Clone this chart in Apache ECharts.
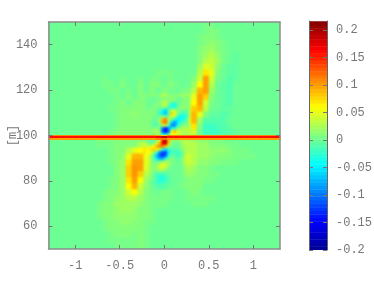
<!DOCTYPE html>
<html><head><meta charset="utf-8">
<style>html,body{margin:0;padding:0;background:#fff}#c{width:374px;height:281px}</style>
<script src="https://cdn.jsdelivr.net/npm/echarts@6/dist/echarts.min.js"></script>
</head><body><div id="c"></div>
<script>
// Tick labels
const xTicks = [-1, -0.5, 0, 0.5, 1];
const yTicks = [60, 80, 100, 120, 140];
const colorTicks = [-0.2, -0.15, -0.1, -0.05, 0, 0.05, 0.1, 0.15, 0.2];
const yLabel = '[m]';
// Colour scale levels
const colorLevels = [-.1968,-.1903,-.1838,-.1773,-.1708,-.1643,-.1578,-.1513,-.1448,-.1383,-.1318,-.1253,-.1188,-.1123,-.1058,-.0993,-.0928,-.0863,-.0798,-.0733,-.0668,-.0603,-.0538,-.0473,-.0408,-.0343,-.0278,-.0213,-.0148,-.0083,-.0018,.0047,.0112,.0177,.0242,.0307,.0372,.0437,.0502,.0567,.0632,.0697,.0762,.0827,.0892,.0957,.1022,.1087,.1152,.1217,.1282,.1347,.1412,.1477,.1542,.1607,.1672,.1737,.1802,.1867,.1932,.1997,.2062,.2127];
// Field values, hundredths, top row first: whole plot
const coarse = [
[0,0,0,0,0,0,0,0,0,0,0,0,0,0,0,0,0,0,0,0,0,0,0,0,0,0,.5,.5,0,0,0,0,0,0,0,0,0,0,0],
[0,0,0,0,0,0,0,0,0,0,0,0,0,0,0,0,0,0,0,0,0,0,0,0,0,0,.5,1,.5,0,0,0,0,0,0,0,0,0,0],
[0,0,0,0,0,0,0,0,0,0,0,0,0,0,0,0,0,0,0,0,0,0,0,0,0,.5,1,1,.5,0,0,0,0,0,0,0,0,0,0],
[0,0,0,0,0,0,0,0,0,0,0,0,0,0,0,0,0,0,0,0,0,0,0,0,0,.5,1,1.5,1,.5,0,0,0,0,0,0,0,0,0],
[0,0,0,0,0,0,0,0,0,0,0,0,0,0,0,0,0,0,0,0,0,0,0,0,0,1,1.5,2,1,.5,0,0,0,0,0,0,0,0,0],
[0,0,0,0,0,0,0,0,0,0,0,0,0,0,0,0,0,0,0,0,0,0,0,0,0,1,2,3,1.5,.5,0,-.5,0,0,0,0,0,0,0],
[0,0,0,0,0,0,0,0,0,0,0,0,0,0,0,0,0,0,0,0,0,0,0,0,0,1,3,3.5,2,.5,0,-.5,0,0,0,0,0,0,0],
[0,0,0,0,0,0,0,0,0,0,0,0,0,0,0,0,0,0,0,0,0,0,0,0,0,2,4.5,4,1.5,0,-.5,-.5,0,0,0,0,0,0,0],
[0,0,0,0,0,0,0,0,0,0,0,0,0,0,0,0,0,0,.5,.5,.5,0,0,0,0,3,7,5,1,0,-.5,-.5,0,0,0,0,0,0,0],
[0,0,0,0,0,0,0,0,0,.5,0,0,.5,0,0,.5,0,.5,.5,0,.5,0,0,0,1,4,10,4,.5,0,-1,-.5,0,0,0,0,0,0,0],
[0,0,0,0,0,0,0,0,0,.5,.5,0,1,0,0,1,0,1,1,0,1,.5,0,0,2,6,10,3,0,-.5,-1,0,0,0,0,0,0,0,0],
[0,0,0,0,0,0,0,0,0,0,.5,.5,0,.5,0,1,0,1,0,1,.5,0,.5,1,3,9,10,2,0,-.5,-1,0,0,0,0,0,0,0,0],
[0,0,0,0,0,0,0,0,0,0,0,.5,0,1,0,1,1,1,1,3,1,1,2,2,5,10,8,1,0,-.5,-1,0,0,0,0,0,0,0,0],
[0,0,0,0,0,0,0,0,0,0,0,.5,1,0,1,1,1,1,1,2,-3,1,2,2,6,10,4,.5,0,-.5,-1,0,0,0,0,0,0,0,0],
[0,0,0,0,0,0,0,0,0,0,.5,.5,1,1,1,1,1,1,0,1,-2,1,1,3,8,9,3,0,0,-.5,-.5,0,0,0,0,0,0,0,0],
[0,0,0,0,0,0,0,0,0,0,0,.5,1,1,1.5,1,1,0,-3,-6,6,2,-3,4,9,5,1,-.5,-.5,-1,-.5,0,0,0,0,0,0,0,0],
[0,0,0,0,0,0,0,0,0,0,0,.5,1,1,1,1,1,0,5,10,-2,-6,-4,5,9,2,-1,-1,-1,-1,0,0,0,0,0,0,0,0,0],
[0,0,0,0,0,0,0,0,0,0,0,.5,1,1,1,1,1,-1,1,2,-8,-5,0,3,7,1,-2,-2,-1.5,-1,-.5,0,0,0,0,0,0,0,0],
[0,0,0,0,0,0,0,0,0,0,.5,1,1,1,1,1,1,1,-6,-13,-3,6,3,3,4,0,-2,-2,-2,-1,-1,-.5,0,0,0,0,0,0,0],
[0,0,0,0,0,0,0,0,.5,.5,.5,1,1,1,1,.5,0,1,8,10,3,1,1,2,2,1,1,.5,.5,0,0,0,0,0,0,0,0,0,0],
[0,0,0,0,0,0,0,0,.5,.5,.5,1,1,1,1,3,4,9,15,17,4,1,2,3,3,2,2,1,1,1,.5,.5,0,0,0,0,0,0,0],
[0,0,0,0,0,0,0,0,0,0,.5,1,1,3,5,6,7,7,0,-6,-1,-1,2,3,3,2,2,1.5,1.5,1.5,1,.5,.5,.5,0,0,0,0,0],
[0,0,0,0,0,0,0,0,0,0,.5,1,1.5,5,9,9,5,-2,-10,-12,-3,-1,1,4,3,2,2,1.5,1,1,1,.5,.5,.5,.5,0,0,0,0],
[0,0,0,0,0,0,0,0,0,0,.5,1,2,7,10,10,5,0,-1,1,1,0,1,4,3,1.5,1.5,1,1,.5,.5,.5,0,0,0,0,0,0,0],
[0,0,0,0,0,0,0,0,0,0,0,1,2,8,10.5,10,5,1,4,4,1,0,1,3,2,1,1,.5,0,0,0,0,0,0,0,0,0,0,0],
[0,0,0,0,0,0,0,0,0,0,0,1,2,8,10.5,8,3,0,-1,-1,0,0,.5,2,1.5,1,1,.5,.5,0,0,0,0,0,0,0,0,0,0],
[0,0,0,0,0,0,0,0,0,0,.5,1,2,7,10,6,2,-1,-3,-2,-1,0,.5,1,1,1,.5,.5,0,0,0,0,0,0,0,0,0,0,0],
[0,0,0,0,0,0,0,0,0,0,.5,1,2,6,9,4,1.5,0,-1,-1,0,0,.5,1,1,1,0,0,0,0,0,0,0,0,0,0,0,0,0],
[0,0,0,0,0,0,0,0,0,.5,1,1,2,4,6,3,1,.5,0,.5,.5,0,0,.5,1,.5,0,0,0,0,0,0,0,0,0,0,0,0,0],
[0,0,0,0,0,0,0,0,0,.5,1,1.5,2,3,3,2,1,.5,.5,.5,.5,0,0,.5,.5,.5,.5,.5,0,0,0,0,0,0,0,0,0,0,0],
[0,0,0,0,0,0,0,0,.5,1,1,2,2,2,2,1.5,1,.5,.5,.5,0,0,0,0,.5,.5,.5,0,0,0,0,0,0,0,0,0,0,0,0],
[0,0,0,0,0,0,0,0,.5,1,1,1.5,2,2,1.5,1,1,.5,0,0,0,0,0,0,0,0,0,0,0,0,0,0,0,0,0,0,0,0,0],
[0,0,0,0,0,0,0,0,.5,1,1,1.5,1.5,1.5,1.5,1,1,.5,0,0,0,0,0,0,0,0,0,0,0,0,0,0,0,0,0,0,0,0,0],
[0,0,0,0,0,0,0,0,0,.5,1,1,1.5,1.5,1,1,.5,.5,0,0,0,0,0,0,0,0,0,0,0,0,0,0,0,0,0,0,0,0,0],
[0,0,0,0,0,0,0,0,0,.5,1,1,1,1,1,1,.5,0,0,0,0,0,0,0,0,0,0,0,0,0,0,0,0,0,0,0,0,0,0],
[0,0,0,0,0,0,0,0,0,0,.5,1,1,1,.5,1,.5,0,0,0,0,0,0,0,0,0,0,0,0,0,0,0,0,0,0,0,0,0,0],
[0,0,0,0,0,0,0,0,0,0,.5,.5,.5,.5,.5,1,.5,0,0,0,0,0,0,0,0,0,0,0,0,0,0,0,0,0,0,0,0,0,0],
[0,0,0,0,0,0,0,0,0,0,0,.5,.5,.5,.5,1,.5,0,0,0,0,0,0,0,0,0,0,0,0,0,0,0,0,0,0,0,0,0,0]
];
// Field values, hundredths, top row first: central detail
const detail = [
[0,0,0,0,.5,1,1,1,2,1,0,0,1,1],
[0,0,0,.5,1,2,3,1,1,0,0,.5,1,1],
[0,0,.5,1,1,3,4,0,-3,-4,-1,1,1,1],
[0,.5,1,1,0,1,1,-2,-3,-3,0,1.5,1.5,1],
[.5,1,1,0,-1,-4,-6,-1,4,3,1,0,0,0],
[1,1,1,0,-2,-5,-7,-1,8,5,1,-1,-2,-1],
[1,1,.5,0,0,1,0,0,5,3,-2,-4,-4,-2],
[1,1,0,-.5,2,9,11,3,0,-3,-5,-4,-3,-1],
[1,.5,-.5,-1,2,10,12,2,-6,-9,-5,-2,-1,0],
[1,.5,-1,-1,0,3,4,-2,-9,-9,-3,0,1,1],
[1,1,1,2,0,-10,-14,-9,-4,-2,1,2,3,3],
[1,1,2,3,1,-11,-15,-10,6,9,5,3,3,3],
[1,1,1,2,2,-3,-5,-1,6,6,4,3,2,2],
[0,0,0,0,2,8,10,5,2,1,1,2,2,3],
[0,-1,-1,1,5,16,20,9,2,1,1,2,3,3],
[1,0,1,4,9,17,19,8,1,0,0,1,3,3],
[4,4,6,9,11,11,8,2,0,0,0,1,2,3],
[6,7,8,7,3,-3,-6,-3,-1,-1,-1,0,2,3],
[6,5,2,-2,-9,-12,-12,-5,-1,-2,-2,-1,1,3],
[6,3,-1,-7,-11,-13,-11,-3,0,-1,-2,-1,1,4],
[5,2,-1,-5,-8,-8,-4,0,1,0,-1,0,2,4],
[5,2,0,0,0,1,2,2,1,0,0,0,2,4],
[5,2,1,1,3,5,4,2,1,0,0,0,2,3],
[4,2,1,2,4,5,3,1,0,0,0,0,1,2.5],
[4,2,1,1,2,2,1,0,0,0,0,0,1,2],
[3,2,0,-1,-1,-1,-1,0,0,0,0,0,1,2],
[3,1,-.5,-2,-3,-3,-2,-1,0,0,0,0,1,1],
[2,1,0,-1,-3,-3,-2,-1,0,0,0,0,0,1]
];
// The thin horizontal band near 99 m, hundredths, by column
const bandTop = [11,11,11,11,11,11,11,11,11,11,11,11,11,11,11,11,11,11,10,8,11,11,11,11,11,11,11,11,11,11,11,11,11,11,11,11,11,11,11];
const bandMid = [16,16,16,16,16,16,16,16,16,16,16,16,16,16,16,16,16,16,17,19,16,16,16,16,16,16,16,16,16,16,16,16,16,16,16,16,16,16,16];
const bandLow = [10,10,10,10,10,10,10,10,10,10,10,10,10,10,10,10,10,10,11,12,10,10,10,10,10,10,10,10,10,10,10,10,10,10,10,10,10,10,10];

const X0 = -1.3, X1 = 1.3, Y0 = 50, Y1 = 150, C0 = -0.2, C1 = 0.2164;
const cells = [];
const nC = coarse[0].length, nR = coarse.length;
const dx = (X1 - X0) / nC, dy = (Y1 - Y0) / nR;
coarse.forEach((row, r) => row.forEach((v, c) => {
  cells.push([X0 + c * dx, X0 + (c + 1) * dx, Y1 - (r + 1) * dy, Y1 - r * dy, v / 100]);
}));
const fx0 = -0.2025, fdx = 0.03376, fy0 = 117.0, fdy = 1.3216;
detail.forEach((row, r) => row.forEach((v, c) => {
  cells.push([fx0 + c * fdx, fx0 + (c + 1) * fdx, fy0 - (r + 1) * fdy, fy0 - r * fdy, v / 100]);
}));
const bandCells = [];
[[bandTop, 100.2, 99.8], [bandMid, 99.8, 98.9], [bandLow, 98.9, 98.2]].forEach(([arr, hi, lo]) => {
  arr.forEach((v, c) => bandCells.push([X0 + c * dx, X0 + (c + 1) * dx, lo, hi, v / 100]));
});
const step = 0.0065;
const barCells = colorLevels.map(v => [0, 1, v - step / 2, v + step / 2, v]);

function renderRect(params, api) {
  const a = api.coord([api.value(0), api.value(3)]);
  const b = api.coord([api.value(1), api.value(2)]);
  return {
    type: 'rect',
    shape: { x: a[0], y: a[1], width: b[0] - a[0] + 0.4, height: b[1] - a[1] + 0.4 },
    style: { fill: api.visual('color') },
    silent: true
  };
}
const font = { fontFamily: 'Liberation Mono', fontSize: 12, color: '#777' };
const lineC = '#8c8c8c';
const frame = { show: true, onZero: false, lineStyle: { color: lineC, width: 1.5 } };
const tick = { show: true, inside: true, length: 4, lineStyle: { color: '#777', width: 1 } };
const rectDims = ['x0', 'x1', 'y0', 'y1', 'v'];

const chart = echarts.init(document.getElementById('c'), null, { renderer: 'canvas' });
chart.setOption({
  animation: false,
  grid: [
    { left: 48.5, top: 22, width: 231.5, height: 227, outerBoundsMode: 'none', containLabel: false },
    { left: 309, top: 21, width: 18, height: 229, outerBoundsMode: 'none', containLabel: false }
  ],
  visualMap: { show: false, min: C0, max: C1, dimension: 4, calculable: false,
    inRange: { color: ['#00008f', '#0000ff', '#0080ff', '#00ffff', '#80ff80', '#ffff00', '#ff8000', '#ff0000', '#800000'] } },
  xAxis: [
    { type: 'value', gridIndex: 0, min: X0, max: X1, position: 'bottom', z: 5, axisLine: frame, splitLine: { show: false },
      axisTick: { ...tick, customValues: xTicks },
      axisLabel: { ...font, margin: 11, customValues: xTicks } },
    { type: 'value', gridIndex: 0, min: X0, max: X1, position: 'top', z: 5, axisLine: frame, splitLine: { show: false },
      axisTick: { ...tick, customValues: xTicks }, axisLabel: { show: false } },
    { type: 'value', gridIndex: 1, min: 0, max: 1, show: false }
  ],
  yAxis: [
    { type: 'value', gridIndex: 0, min: Y0, max: Y1, position: 'left', z: 5, axisLine: frame, splitLine: { show: false },
      name: yLabel, nameLocation: 'middle', nameRotate: 90, nameGap: 30, nameMoveOverlap: false, nameTextStyle: { ...font },
      axisTick: { ...tick, customValues: yTicks },
      axisLabel: { ...font, margin: 11, customValues: yTicks } },
    { type: 'value', gridIndex: 0, min: Y0, max: Y1, position: 'right', z: 5, axisLine: frame, splitLine: { show: false },
      axisTick: { ...tick, customValues: yTicks }, axisLabel: { show: false } },
    { type: 'value', gridIndex: 1, min: C0, max: C1, position: 'right', z: 5,
      axisLine: { show: true, onZero: false, lineStyle: { color: '#666', width: 1 } }, splitLine: { show: false },
      axisTick: { ...tick, customValues: colorTicks },
      axisLabel: { ...font, margin: 9, customValues: colorTicks } },
    { type: 'value', gridIndex: 1, min: C0, max: C1, position: 'left', z: 5,
      axisLine: { show: true, onZero: false, lineStyle: { color: '#666', width: 1 } }, splitLine: { show: false },
      axisTick: { ...tick, customValues: colorTicks }, axisLabel: { show: false } }
  ],
  series: [
    { type: 'custom', zlevel: -1, coordinateSystem: 'cartesian2d', xAxisIndex: 0, yAxisIndex: 0, clip: true,
      dimensions: rectDims, encode: { x: [0, 1], y: [2, 3] }, renderItem: renderRect, data: cells },
    { type: 'custom', coordinateSystem: 'cartesian2d', xAxisIndex: 0, yAxisIndex: 0, clip: true,
      dimensions: rectDims, encode: { x: [0, 1], y: [2, 3] }, renderItem: renderRect, data: bandCells },
    { type: 'custom', coordinateSystem: 'cartesian2d', xAxisIndex: 2, yAxisIndex: 2, clip: true,
      dimensions: rectDims, encode: { x: [0, 1], y: [2, 3] }, renderItem: renderRect, data: barCells }
  ]
});
// Soften only the field's own canvas layer; it stays cut to the plot area.
const layer = chart.getDom().querySelector('[data-zr-dom-id="zr_-1"]');
if (layer) {
  layer.style.backgroundColor = '#6cff94';
  layer.style.filter = 'blur(1.3px)';
  layer.style.clipPath = 'inset(22px 94px 32px 48.5px)';
}
</script></body></html>
